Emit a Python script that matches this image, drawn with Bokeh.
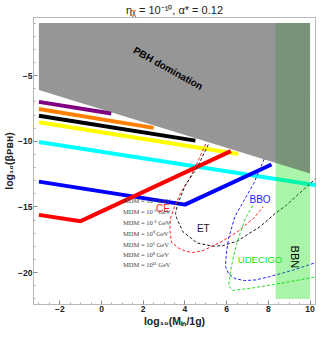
import math
from bokeh.plotting import figure
from bokeh.models import Range1d, LinearAxis, FixedTicker, Label, Legend, LegendItem
from bokeh.embed import file_html
from bokeh.resources import INLINE

# ---------------- data ----------------
x_lim = (-3.26, 10.26)
y_lim = (-22.42, -0.58)

x_ticks = [-2, 0, 2, 4, 6, 8, 10]
x_tick_labels = ["−2", "0", "2", "4", "6", "8", "10"]
y_ticks = [-20, -15, -10, -5]
y_tick_labels = ["−20", "−15", "−10", "−5"]

title_text = "ηᵪ = 10⁻¹⁰, α* = 0.12"
x_label = "log₁₀(Mᵢₙ/1g)"
y_label = "log₁₀(βᴘʙʜ)"

pbh_dom_x = [-3, 10, 10, -3]
pbh_dom_y = [-1, -1, -12.45, -6.1]

bbn_x = [8.35, 10, 10, 8.35]
bbn_y = [-22, -22, -1, -1]

purple_x = [-3, 0.47]
purple_y = [-7.0, -7.88]
orange_x = [-3, 2.5]
orange_y = [-7.55, -8.98]
black_x = [-3, 4.5]
black_y = [-8.05, -9.95]
yellow_x = [-3, 6.55]
yellow_y = [-8.55, -10.97]
cyan_x = [-3, 10.3]
cyan_y = [-10.05, -13.35]
blue_x = [-3, 4.0, 8.15]
blue_y = [-13.07, -14.82, -11.77]
red_x = [-3, -1.0, 6.2]
red_y = [-15.6, -16.08, -10.75]

ce_x = [5.0, 4.6, 4.2, 3.8, 3.5, 3.3, 3.28, 3.36, 3.67, 4.0, 4.35, 4.9, 5.8, 6.5, 7.3, 7.75]
ce_y = [-10.2, -11.6, -12.9, -13.9, -15.0, -15.9, -16.8, -17.7, -18.1, -18.35, -18.47, -18.3, -17.6, -16.9, -15.85, -15.0]

et_x = [5.12, 4.6, 4.0, 3.65, 3.55, 3.62, 3.9, 4.58, 5.33, 5.8, 6.5, 7.6, 8.36, 8.8, 10.33]
et_y = [-10.25, -11.95, -13.4, -14.8, -15.5, -15.9, -16.88, -17.74, -17.98, -17.95, -17.6, -16.5, -15.45, -14.95, -12.75]

bbo_x = [7.8, 7.3, 6.8, 6.4, 6.1, 6.0, 5.94, 6.1, 6.4, 6.85, 7.4, 8.06, 9.2, 10.33]
bbo_y = [-11.35, -13.2, -14.6, -15.7, -17.35, -18.35, -19.5, -20.1, -20.45, -20.6, -20.55, -20.3, -19.8, -19.2]

udecigo_x = [7.25, 6.9, 6.65, 6.47, 6.3, 6.15, 6.1, 6.3, 7.3, 8.8, 10.33]
udecigo_y = [-14.9, -15.85, -17.0, -17.85, -19.0, -20.2, -21.0, -21.35, -21.15, -20.75, -20.3]

legend_labels = ["MDM = 10⁻³ GeV", "MDM = 10⁻² GeV", "MDM = 10⁻¹ GeV", "MDM = 10⁰ GeV",
                 "MDM = 10⁶ GeV", "MDM = 10⁸ GeV", "MDM = 10¹¹ GeV"]
line_colors = ["#800080", "#ff8000", "#000000", "#ffff00", "#00ffff", "#0000ff", "#ff0000"]

# ---------------- layout ----------------
W, H = 318, 329
BL, BR, BB = 28, 3, 25

p = figure(width=W, height=H, x_range=Range1d(*x_lim), y_range=Range1d(*y_lim),
           x_axis_type=None, y_axis_type=None, output_backend="svg", toolbar_location=None,
           min_border_left=BL, min_border_right=BR, min_border_top=0, min_border_bottom=BB,
           title=title_text)
p.title.align = "center"
p.title.text_font = "Liberation Sans"
p.title.text_font_size = "11px"
p.title.text_font_style = "normal"
p.title.text_color = "#222222"
p.title.standoff = 3
p.title.offset = 0
p.outline_line_color = "#b8b8b8"
p.background_fill_color = "white"
p.border_fill_color = "white"

x_minor = [v / 2 for v in range(-6, 21) if (v / 2) not in x_ticks]
y_minor = [v for v in range(-22, 0) if v not in y_ticks]


def make_axis(ticks, minor, labels, label):
    ax = LinearAxis(ticker=FixedTicker(ticks=ticks, minor_ticks=minor))
    ax.major_label_overrides = {t: l for t, l in zip(ticks, labels)}
    ax.axis_line_color = "#b8b8b8"
    ax.major_tick_in = 4
    ax.major_tick_out = 0
    ax.minor_tick_in = 2
    ax.minor_tick_out = 0
    ax.major_tick_line_color = "#8a8a8a"
    ax.minor_tick_line_color = "#aaaaaa"
    ax.major_label_text_font = "Liberation Sans"
    ax.major_label_text_font_style = "bold"
    ax.major_label_text_color = "#222222"
    ax.major_label_text_font_size = "8.5px"
    ax.major_label_standoff = 1
    ax.axis_label = label
    ax.axis_label_text_font = "Liberation Sans"
    ax.axis_label_text_font_style = "bold"
    ax.axis_label_text_font_size = "10.5px"
    ax.axis_label_text_color = "#222222"
    ax.axis_label_standoff = 0
    return ax


p.add_layout(make_axis(x_ticks, x_minor, x_tick_labels, x_label), "below")
p.add_layout(make_axis(y_ticks, y_minor, y_tick_labels, y_label), "left")

# ---------------- curves ----------------
xs = [purple_x, orange_x, black_x, yellow_x, cyan_x, blue_x, red_x]
ys = [purple_y, orange_y, black_y, yellow_y, cyan_y, blue_y, red_y]
for x, y, c in zip(xs, ys, line_colors):
    p.line(x, y, line_width=4, color=c)

p.line(ce_x, ce_y, line_width=1, color="#ff2020", line_dash="3 2")
p.line(et_x, et_y, line_width=1, color="#202020", line_dash="3 2")
p.line(bbo_x, bbo_y, line_width=1, color="#2020ff", line_dash="3 2")
p.line(udecigo_x, udecigo_y, line_width=1, color="#22dd22", line_dash="3 2")

# regions
p.patch(bbn_x, bbn_y, fill_color="#00e100", fill_alpha=0.33, line_color=None)
p.patch(pbh_dom_x, pbh_dom_y, fill_color="#5d5d5d", fill_alpha=0.65, line_color=None)

# legend with thin samples
items = []
for lab, c in zip(legend_labels, line_colors):
    r = p.line([], [], line_width=1.5, color=c)
    items.append(LegendItem(label=lab, renderers=[r]))
leg = Legend(items=items, location=(78, 36),
             label_text_font="Liberation Serif", label_text_font_size="6.5px",
             label_height=8, glyph_height=8, glyph_width=9, spacing=2,
             label_standoff=3, padding=0, margin=0,
             background_fill_alpha=0, border_line_alpha=0)
p.add_layout(leg)


def dlabel(x, y, t, color, size, angle=0.0, style="normal"):
    p.add_layout(Label(x=x, y=y, text=t, text_color=color, text_font="Liberation Sans",
                       text_font_size=size, text_font_style=style, angle=angle,
                       text_align="center", text_baseline="middle"))


dlabel(2.95, -15.1, "CE", "#ff2020", "10px")
dlabel(4.88, -16.64, "ET", "#202020", "10px")
dlabel(7.6, -14.45, "BBO", "#2020ff", "10px")
dlabel(7.6, -19.0, "UDECIGO", "#22dd22", "9.5px")
dlabel(9.27, -18.8, "BBN", "#000000", "11px", angle=-math.pi / 2)
dlabel(3.2, -4.45, "PBH domination", "#000000", "10px", angle=-0.506, style="bold")

open("out.html", "w").write(file_html(p, INLINE))
